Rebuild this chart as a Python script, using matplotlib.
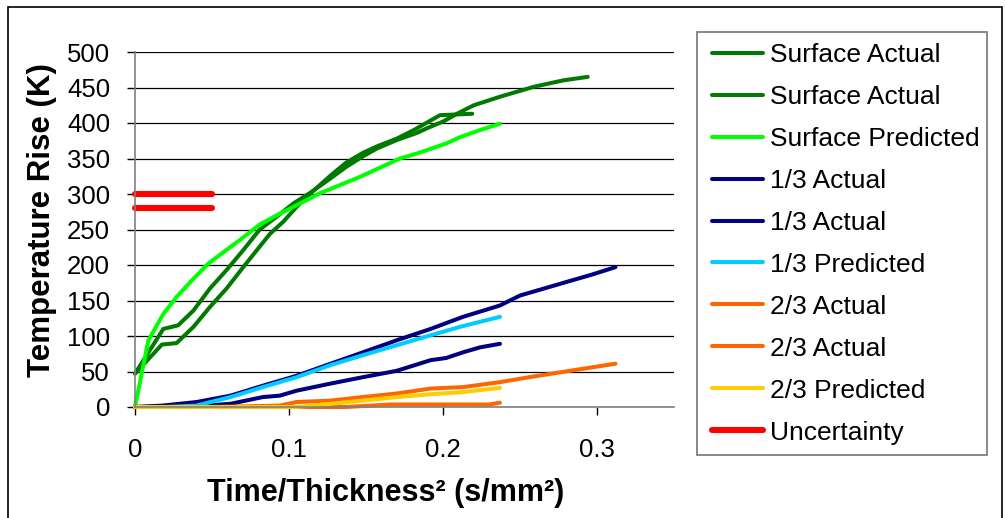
import numpy as np
import matplotlib
matplotlib.use("Agg")
import matplotlib.pyplot as plt
from matplotlib.patches import Rectangle

plt.rcParams['font.family'] = ['Liberation Sans', 'DejaVu Sans']

# surface thermocouples (two runs) and model
surf_a1_x = [0, 0.0184, 0.028, 0.038, 0.0487, 0.0595, 0.0703, 0.081, 0.092, 0.103, 0.114, 0.127,
             0.137, 0.148, 0.157, 0.170, 0.183, 0.19, 0.2, 0.21, 0.22, 0.237, 0.259, 0.278, 0.294]
surf_a1_y = [47, 110, 115, 136, 167, 193, 221, 250, 268, 287, 302, 322,
             338, 353, 364, 376, 386, 393, 402, 414, 425, 437, 451, 460, 465]
surf_a2_x = [0, 0.0175, 0.027, 0.038, 0.0487, 0.0595, 0.0703, 0.081, 0.0877, 0.0963, 0.105,
             0.114, 0.127, 0.137, 0.148, 0.157, 0.170, 0.181, 0.198, 0.208, 0.219]
surf_a2_y = [47, 88, 90, 113, 141, 167, 197, 226, 244, 261, 282,
             301, 326, 344, 358, 367, 378, 390, 411, 412, 413]
surf_p_x = [0, 0.0087, 0.0184, 0.027, 0.0368, 0.0476, 0.0574, 0.068, 0.081, 0.092, 0.103,
            0.120, 0.146, 0.172, 0.183, 0.202, 0.211, 0.224, 0.237]
surf_p_y = [0, 94, 131, 155, 178, 202, 218, 235, 257, 270, 282,
            301, 324, 350, 357, 371, 380, 390, 399]

# 1/3 depth
third_a1_x = [0, 0.018, 0.040, 0.062, 0.083, 0.105, 0.127, 0.148, 0.170, 0.192, 0.213,
              0.237, 0.25, 0.28, 0.296, 0.312]
third_a1_y = [0, 2, 7, 16, 30, 44, 61, 77, 94, 110, 127, 143, 157, 176, 186, 197]
third_a2_x = [0, 0.04, 0.062, 0.083, 0.094, 0.105, 0.127, 0.148, 0.170, 0.192, 0.202,
              0.213, 0.224, 0.237]
third_a2_y = [0, 1, 4.5, 14, 16, 23, 33, 42, 51, 66, 69, 77, 84, 89]
third_p_x = [0, 0.02, 0.04, 0.062, 0.083, 0.105, 0.127, 0.148, 0.170, 0.192, 0.213, 0.237]
third_p_y = [0, 0, 2, 14, 28, 42, 59, 73, 87, 101, 114, 127]

# 2/3 depth
two_a1_x = [0, 0.05, 0.094, 0.105, 0.127, 0.148, 0.170, 0.192, 0.213, 0.237, 0.256, 0.312]
two_a1_y = [0, 0, 2, 7, 9, 14, 19, 26, 28, 35, 42, 61]
two_a2_x = [0, 0.1, 0.137, 0.166, 0.2, 0.23, 0.237]
two_a2_y = [0, 0, 0, 3.5, 3.5, 3.5, 6]
two_p_x = [0, 0.105, 0.127, 0.148, 0.170, 0.192, 0.213, 0.237]
two_p_y = [0, 0, 4.5, 9, 14, 18, 21, 27]

# uncertainty band limits
unc_x = [0, 0.05, np.nan, 0, 0.05]
unc_y = [300, 300, np.nan, 280, 280]

series = [
    (surf_a1_x, surf_a1_y, 'Surface Actual', '#007A00', 2.9),
    (surf_a2_x, surf_a2_y, 'Surface Actual', '#007A00', 2.9),
    (surf_p_x, surf_p_y, 'Surface Predicted', '#00FF00', 2.9),
    (third_a1_x, third_a1_y, '1/3 Actual', '#000080', 2.9),
    (third_a2_x, third_a2_y, '1/3 Actual', '#000080', 2.9),
    (third_p_x, third_p_y, '1/3 Predicted', '#00CCFF', 2.9),
    (two_a1_x, two_a1_y, '2/3 Actual', '#FF6600', 2.9),
    (two_a2_x, two_a2_y, '2/3 Actual', '#FF6600', 2.9),
    (two_p_x, two_p_y, '2/3 Predicted', '#FFCC00', 2.9),
    (unc_x, unc_y, 'Uncertainty', '#FF0000', 4.4),
]

W, H = 1005, 518
fig = plt.figure(figsize=(W / 100, H / 100), dpi=100)
ax = fig.add_axes([135 / W, 1 - 407 / H, 539 / W, 355 / H])

for x, y, lab, col, lw in series:
    ax.plot(x, y, color=col, lw=lw, label=lab, solid_capstyle='round',
            solid_joinstyle='round', clip_on=False)

ax.set_xlim(0, 0.35)
ax.set_ylim(0, 500)
ax.set_xticks([0, 0.1, 0.2, 0.3])
ax.set_xticklabels(['0', '0.1', '0.2', '0.3'])
ax.set_yticks(np.arange(0, 501, 50))
ax.grid(axis='y', color='black', lw=0.9)
ax.set_axisbelow(True)

for s in ['top', 'right']:
    ax.spines[s].set_visible(False)
for s in ['left', 'bottom']:
    ax.spines[s].set_color('#808080')
    ax.spines[s].set_linewidth(1.2)

ax.tick_params(axis='y', direction='out', length=6, width=1, color='black', pad=12, labelsize=18.5)
ax.tick_params(axis='x', direction='out', length=6, width=1, color='black', pad=16, labelsize=18.5)

fig.text(42 / W, 1 - 220 / H, 'Temperature Rise (K)', fontsize=22.5, fontweight='bold',
         rotation=90, ha='center', va='center')
fig.text(386 / W, 1 - 493 / H, 'Time/Thickness² (s/mm²)', fontsize=22,
         fontweight='bold', ha='center', va='center')

# legend frame drawn separately so the padding can be set on its own
fig.add_artist(Rectangle((697 / W, 1 - 455 / H), 290 / W, 423 / H, transform=fig.transFigure,
                         fill=False, edgecolor='#808080', lw=1.3))
leg = fig.legend(loc='upper left', bbox_to_anchor=(712 / W, 1 - 43 / H),
                 fontsize=19, frameon=False, handlelength=1.93,
                 handletextpad=0.27, labelspacing=0.68, borderpad=0, borderaxespad=0)

# chart border
fig.add_artist(Rectangle((8 / W, -0.02), 994 / W, 1 - 7 / H + 0.02,
                         transform=fig.transFigure, fill=False, edgecolor='black', lw=1.2))

fig.savefig('out.png', dpi=100)
